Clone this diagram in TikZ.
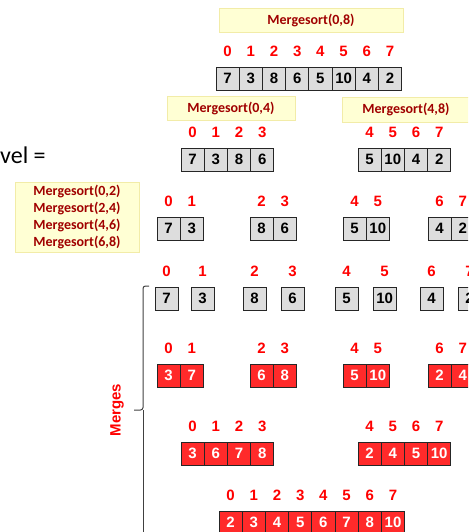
\documentclass[tikz,border=0pt]{standalone}
\usepackage{fontspec}
\setmainfont{Liberation Sans}
\newfontfamily\calfont{Carlito}
\definecolor{ybg}{HTML}{FFFFD4}
\definecolor{ybd}{HTML}{F2ECA8}
\definecolor{dred}{HTML}{A00000}
\definecolor{cellred}{HTML}{FF2A2A}
\definecolor{cellgray}{HTML}{DDDDDD}
\tikzset{
 idx/.style={text=red, font=\fontsize{15}{15}\selectfont\bfseries, inner sep=0pt},
 gcell/.style={draw=black!85, fill=cellgray, line width=0.9pt, minimum width=23.2pt, minimum height=23pt, inner sep=0pt, font=\fontsize{15}{15}\selectfont\bfseries},
 rcell/.style={gcell, fill=cellred, text=white, draw=black!85},
 ms/.style={fill=ybg, draw=ybd, line width=0.8pt, text=dred, font=\calfont\fontsize{14}{16.7}\selectfont\bfseries, inner sep=0pt, align=center},
 brk/.style={draw=black!75, line width=1pt},
}
% #1 name, #2 left x, #3 center y, #4 style, #5 first index, #6 values
\newcommand\cellrow[6]{%
  \foreach \v [count=\i from 0] in {#6} {%
    \pgfmathtruncatemacro\ix{#5+\i}%
    \node[#4] (#1-\i) at ({#2+11.6+23.2*\i}, #3) {\v};
    \node[idx] (#1-i\i) at ([yshift=27pt]#1-\i.center) {\ix};
  }%
}
\begin{document}
\begin{tikzpicture}[x=1pt,y=-1pt]
\useasboundingbox (0,0) rectangle (468,532);
\clip (0,0) rectangle (468,532);

% level text
\node[anchor=base west, inner sep=0pt, font=\calfont\fontsize{24}{24}\selectfont] (lvl) at (0,163) {vel =};

% Mergesort labels
\node[ms, minimum width=184pt, minimum height=24pt] (m08) at (311,20) {Mergesort(0,8)};
\node[ms, minimum width=128pt, minimum height=24pt] (m04) at (231,108) {Mergesort(0,4)};
\node[ms, minimum width=128pt, minimum height=25pt] (m48) at (406,109.5) {Mergesort(4,8)};
\node[ms, minimum width=124pt, minimum height=70pt] (m2) at (77,217) {Mergesort(0,2)\\Mergesort(2,4)\\Mergesort(4,6)\\Mergesort(6,8)};

% row 1
\cellrow{a}{216}{78.5}{gcell}{0}{7,3,8,6,5,10,4,2}
% row 2
\cellrow{bl}{181}{159.5}{gcell}{0}{7,3,8,6}
\cellrow{br}{358}{159.5}{gcell}{4}{5,10,4,2}
% row 3
\cellrow{c1}{157}{228.5}{gcell}{0}{7,3}
\cellrow{c2}{250}{228.5}{gcell}{2}{8,6}
\cellrow{c3}{343}{228.5}{gcell}{4}{5,10}
\cellrow{c4}{428}{228.5}{gcell}{6}{4,2}
% row 4 single cells
\foreach \xx/\v [count=\i from 0] in {155/7,191/3,243/8,281/6,335/5,373/10,420/4,458/2} {
  \node[gcell] (d\i) at ({\xx+11.6},298.5) {\v};
  \node[idx] (di\i) at ([yshift=27pt]d\i.center) {\i};
}
% row 5 merges
\cellrow{e1}{157}{375.5}{rcell}{0}{3,7}
\cellrow{e2}{250}{375.5}{rcell}{2}{6,8}
\cellrow{e3}{343}{375.5}{rcell}{4}{5,10}
\cellrow{e4}{428}{375.5}{rcell}{6}{2,4}
% row 6
\cellrow{fl}{181}{453.5}{rcell}{0}{3,6,7,8}
\cellrow{fr}{358}{453.5}{rcell}{4}{2,4,5,10}
% row 7
\cellrow{g}{219}{522.5}{rcell}{0}{2,3,4,5,6,7,8,10}

% bracket
\coordinate (bt) at (149,286);
\coordinate (bc) at (143,286);
\coordinate (bm) at (143,410);
\coordinate (bk) at (134,410);
\coordinate (bb) at (143,545);
\draw[brk, rounded corners=2.5pt] (bt) -- (bc) -- (bm) -- (bk);
\draw[brk] (bm) -- (bb);
\node[rotate=90, text=red, font=\fontsize{15}{15}\selectfont\bfseries, inner sep=0pt] (mg) at (117,410) {Merges};
\end{tikzpicture}
\end{document}
